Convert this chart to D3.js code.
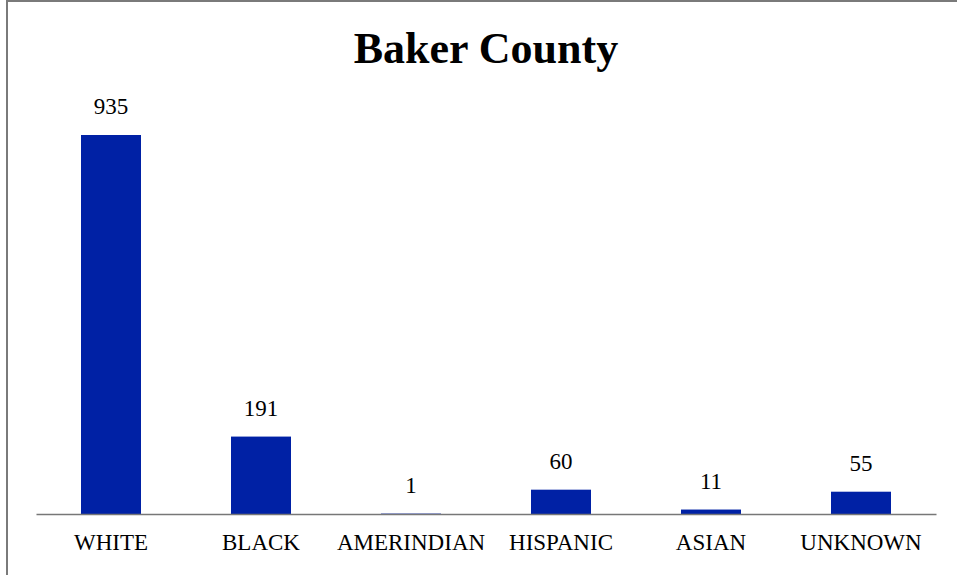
<!DOCTYPE html>
<html>
<head>
<meta charset="utf-8">
<script src="https://cdn.jsdelivr.net/npm/d3@7"></script>
<style>
  html, body { margin: 0; padding: 0; background: #fff; }
  svg { display: block; }
  svg text { font-family: "Liberation Serif", "Times New Roman", serif; }
</style>
</head>
<body>
<div id="chart"></div>
<script>
const title = "Baker County";
const categories = ["WHITE", "BLACK", "AMERINDIAN", "HISPANIC", "ASIAN", "UNKNOWN"];
const values = [935, 191, 1, 60, 11, 55];

const W = 957, H = 575;
const font = "Liberation Serif, Times New Roman, serif";
const svg = d3.select("#chart").append("svg").attr("width", W).attr("height", H);

svg.append("rect").attr("x", 7).attr("y", 1).attr("width", 1000).attr("height", 1000)
  .attr("fill", "#fff").attr("stroke", "#7a7a7a").attr("stroke-width", 2);

const x = d3.scaleBand().domain(categories).range([36, 936]).paddingInner(0.6).paddingOuter(0.3);
const y = d3.scaleLinear().domain([0, 935]).range([514, 135]);

svg.append("text").attr("x", 486).attr("y", 63).attr("text-anchor", "middle")
  .style("font-family", font).attr("font-weight", "bold").attr("font-size", 44)
  .attr("fill", "#000").text(title);

const data = categories.map((c, i) => ({ c, v: values[i] }));

svg.selectAll("rect.bar").data(data).enter().append("rect").attr("class", "bar")
  .attr("x", d => x(d.c)).attr("width", x.bandwidth())
  .attr("y", d => y(d.v)).attr("height", d => y(0) - y(d.v))
  .attr("fill", "#0021A5");

svg.selectAll("text.val").data(data).enter().append("text").attr("class", "val")
  .attr("x", d => x(d.c) + x.bandwidth() / 2).attr("y", d => y(d.v) - 21)
  .attr("text-anchor", "middle").style("font-family", font).attr("font-size", 23)
  .attr("fill", "#000").text(d => d.v);

const axis = d3.axisBottom(x).tickSize(0).tickPadding(0);
const g = svg.append("g").attr("transform", `translate(0,${y(0)})`).call(axis);
g.attr("font-family", null);
g.select(".domain").attr("stroke", "#777").attr("stroke-width", 1.5);
g.selectAll(".tick text").style("font-family", font).attr("font-size", 23)
  .attr("fill", "#000").attr("dy", null).attr("y", 36);
</script>
</body>
</html>
